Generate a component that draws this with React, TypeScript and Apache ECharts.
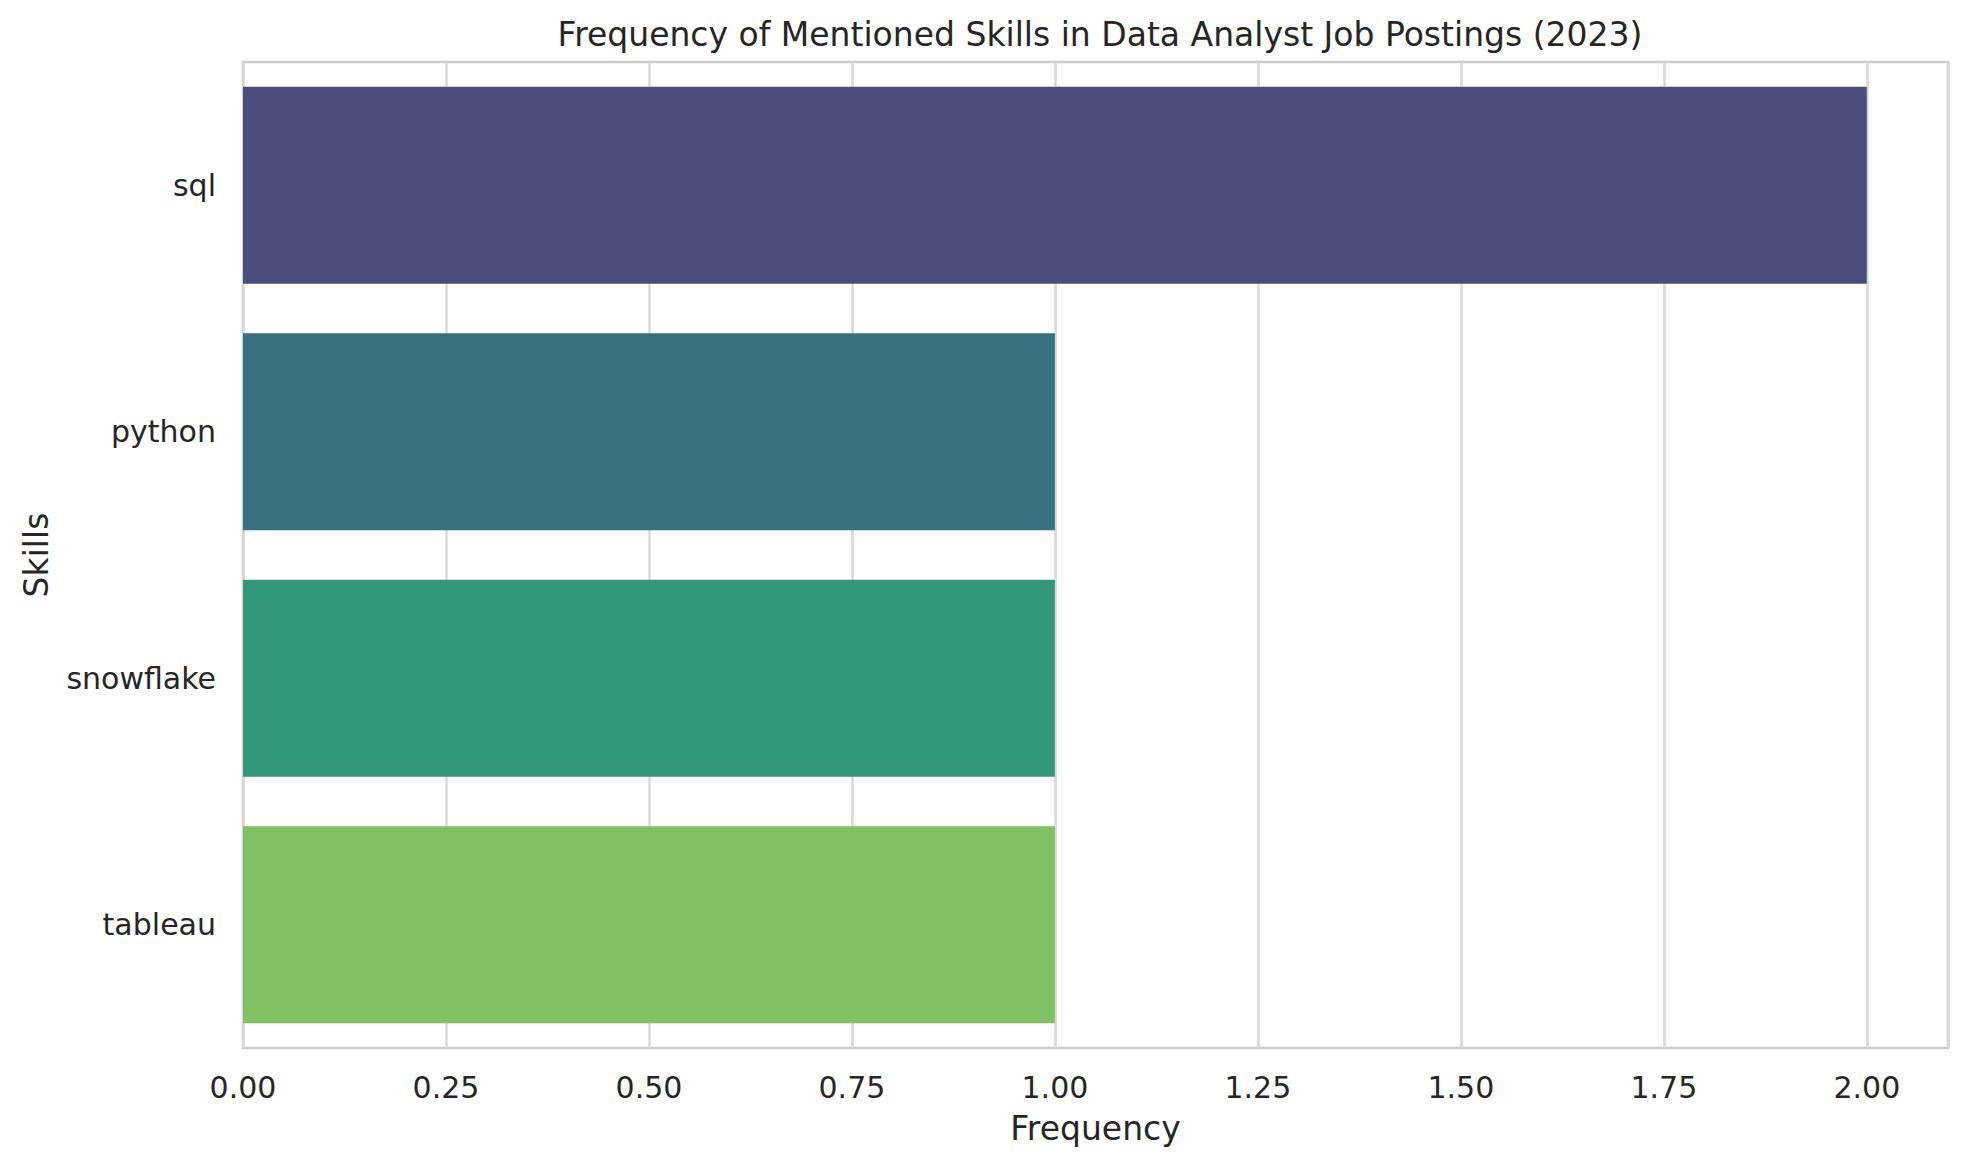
import { useEffect, useRef } from "react";
import * as echarts from "echarts";
import type { EChartsOption } from "echarts";

const skills = ["sql", "python", "snowflake", "tableau"];
const frequency = [2, 1, 1, 1];
// viridis (4), desaturated the seaborn way
const barColors = ["#4a4c7e", "#377182", "#33977c", "#80c161"];
const xTicks = { min: 0, max: 2.1, interval: 0.25 };

const FONT = "DejaVu Sans";
const TEXT = "#262626";

export default function App() {
  const chartRef = useRef<HTMLDivElement>(null);

  useEffect(() => {
    document.body.style.margin = "0";
    if (!chartRef.current) return;
    const chart = echarts.init(chartRef.current, null, { renderer: "svg" });

    const option: EChartsOption = {
      animation: false,
      backgroundColor: "#ffffff",
      textStyle: { fontFamily: FONT, color: TEXT },
      title: {
        text: "Frequency of Mentioned Skills in Data Analyst Job Postings (2023)",
        left: 1095,
        textAlign: "center",
        top: 13,
        textStyle: { fontFamily: FONT, fontSize: 33, fontWeight: "normal", color: TEXT },
      },
      grid: {
        left: 243,
        right: 20,
        top: 62,
        bottom: 120,
        show: true,
        borderColor: "#cccccc",
        borderWidth: 2.5,
        backgroundColor: "transparent",
      },
      xAxis: {
        type: "value",
        min: xTicks.min,
        max: xTicks.max,
        interval: xTicks.interval,
        name: "Frequency",
        nameLocation: "middle",
        nameGap: 64,
        nameTextStyle: { fontFamily: FONT, fontSize: 33, color: TEXT },
        axisLine: { show: false },
        axisTick: { show: false },
        axisLabel: {
          fontFamily: FONT,
          fontSize: 30,
          color: TEXT,
          margin: 24,
          showMaxLabel: false,
          formatter: (v: number) => v.toFixed(2),
        },
        splitLine: { show: true, lineStyle: { color: "#d8d8d8", width: 2.5 } },
      },
      yAxis: {
        type: "category",
        data: skills,
        inverse: true,
        name: "Skills",
        nameLocation: "middle",
        nameGap: 190,
        nameRotate: 90,
        nameTextStyle: { fontFamily: FONT, fontSize: 33, color: TEXT },
        axisLine: { show: false },
        axisTick: { show: false },
        axisLabel: { fontFamily: FONT, fontSize: 30, color: TEXT, margin: 27 },
        splitLine: { show: false },
      },
      series: [
        {
          type: "bar",
          barCategoryGap: "20%",
          data: frequency.map((v, i) => ({ value: v, itemStyle: { color: barColors[i] } })),
        },
      ],
    };

    chart.setOption(option);
    return () => {
      chart.dispose();
    };
  }, []);

  return <div ref={chartRef} style={{ width: "1968px", height: "1168px" }} />;
}
